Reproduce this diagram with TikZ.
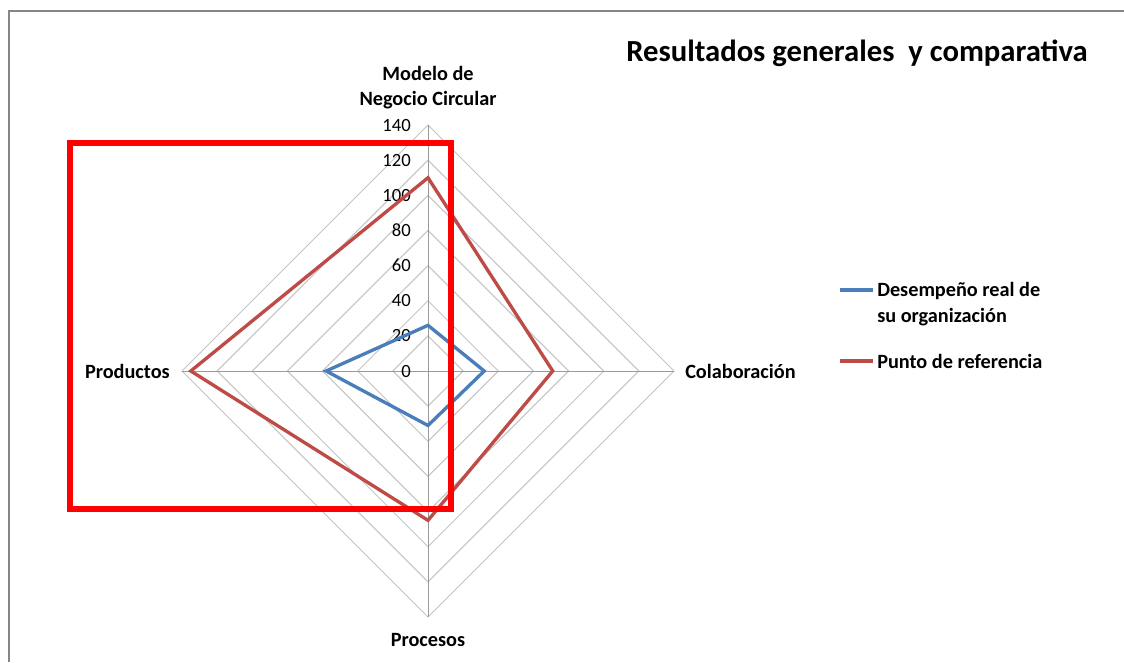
\documentclass[tikz,border=0pt]{standalone}
\usepackage{fontspec}
\setmainfont{Carlito}
\usetikzlibrary{calc}
\definecolor{serieblue}{HTML}{4A7EBB}
\definecolor{seriered}{HTML}{BE4B48}
\definecolor{gridgray}{HTML}{C4C4C4}
\definecolor{axisgray}{HTML}{9A9A9A}
\definecolor{framegray}{HTML}{868686}
\definecolor{markred}{HTML}{FF0000}
\begin{document}
\begin{tikzpicture}[x=0.75pt,y=-0.75pt,
  gridline/.style={gridgray,line width=0.75pt},
  spoke/.style={axisgray,line width=0.75pt},
  series/.style={line width=2.5pt,line join=miter},
  axislabel/.style={font=\bfseries\fontsize{15.2}{18.75}\selectfont,inner sep=0pt},
  ticklabel/.style={font=\fontsize{14}{16}\selectfont,anchor=east,inner sep=0pt},
  legendtext/.style={font=\bfseries\fontsize{15.2}{19.5}\selectfont,anchor=west,align=left,inner sep=0pt},
]
\useasboundingbox (0,0) rectangle (1124,662);
\fill[white] (0,0) rectangle (1124,662);
\draw[framegray,line width=1.5pt] (8.5,662) -- (8.5,10.5) -- (1124,10.5);
% centre and axis ends
\coordinate (C) at (428,371);
\def\s{1.757}
\coordinate (T) at (428,{371-140*\s});
\coordinate (R) at ({428+140*\s},371);
\coordinate (B) at (428,{371+140*\s});
\coordinate (L) at ({428-140*\s},371);
% grid rings
\foreach \r in {20,40,...,140}{
  \draw[gridline] (428,{371-\r*\s}) -- ({428+\r*\s},371) -- (428,{371+\r*\s}) -- ({428-\r*\s},371) -- cycle;
}
% spokes
\draw[spoke] (C) -- (T);
\draw[spoke] (C) -- (R);
\draw[spoke] (C) -- (B);
\draw[spoke] (C) -- (L);
% tick labels
\foreach \r in {0,20,...,140}{
  \node[ticklabel] (tick\r) at (411,{371-\r*\s}) {\r};
}
% series
\draw[serieblue,series] (428,{371-26*\s}) -- ({428+32*\s},371) -- (428,{371+31*\s}) -- ({428-58*\s},371) -- cycle;
\draw[seriered,series] (428,{371-110*\s}) -- ({428+71*\s},371) -- (428,{371+85*\s}) -- ({428-135*\s},371) -- cycle;
% axis labels
\node[axislabel,align=center] (lmodelo) at (428,88) {Modelo de\\Negocio Circular};
\node[axislabel,anchor=west] (lcolab) at (685,371) {Colaboración};
\node[axislabel] (lproc) at (428,640) {Procesos};
\node[axislabel,anchor=east] (lprod) at (170,371) {Productos};
% title
\node[font=\bfseries\fontsize{23}{27}\selectfont,inner sep=0pt] (title) at (857,53) {Resultados generales\ \ y comparativa};
% legend
\coordinate (lb1) at (840,290);
\coordinate (lb2) at (873,290);
\draw[serieblue,line width=2.5pt] (lb1) -- (lb2);
\node[legendtext] (leg1) at (877,304) {Desempeño real de\\su organización};
\coordinate (lr1) at (840,361);
\coordinate (lr2) at (873,361);
\draw[seriered,line width=2.5pt] (lr1) -- (lr2);
\node[legendtext] (leg2) at (877,361) {Punto de referencia};
% red highlight rectangle
\draw[markred,line width=3.8pt] (70,143) rectangle (451,509);
\end{tikzpicture}
\end{document}
